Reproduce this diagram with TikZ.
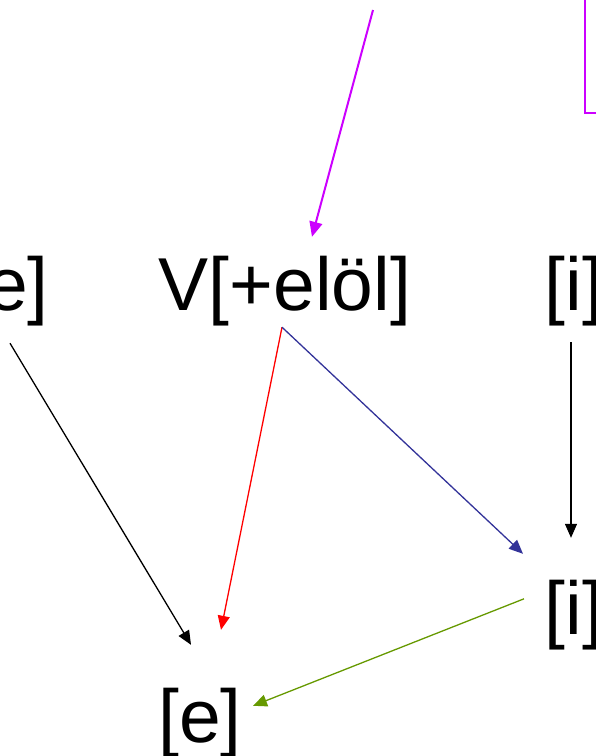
\documentclass[tikz,border=0pt]{standalone}
\usepackage{fontspec}
\setmainfont{Liberation Sans}
\usepackage{tikz}
\usetikzlibrary{arrows.meta}
\definecolor{HarmPurple}{HTML}{CC00FF}
\definecolor{HarmRed}{HTML}{FF0000}
\definecolor{HarmBlue}{HTML}{333399}
\definecolor{HarmGreen}{HTML}{669900}
\tikzset{
  vowel/.style={
    inner sep=0pt,
    anchor=base,
    text height=55pt,
    text depth=15pt,
    font=\fontsize{75}{80}\selectfont
  },
  vflow/.style={-{Triangle[length=14pt,width=12pt]}, line width=1.3pt}
}
\begin{document}
\begin{tikzpicture}[x=1pt,y=1pt]
  \clip (0,0) rectangle (596,-756);
  \useasboundingbox (0,0) rectangle (596,-756);
  \node[vowel] (e1) at (7,-310) {[e]};
  \node[vowel] (front) at (285,-310) {V[+elöl]};
  \node[vowel] (i1) at (574,-310) {[i]};
  \node[vowel] (i2) at (574,-634) {[i]};
  \node[vowel] (e2) at (200,-742) {[e]};
  \coordinate (rule) at (373,-10);
  % rule box, cut by the edge
  \draw[HarmPurple, line width=1.6pt] (585,5) rectangle (650,-113);
  \draw[vflow, draw=HarmPurple, fill=HarmPurple, line width=2pt,
    -{Triangle[length=15pt,width=13pt]}] (rule) -- ([shift={(27pt,18pt)}]front.north);
  \draw[vflow, draw=black] ([shift={(3pt,-18pt)}]e1.south) -- ([shift={(-9pt,42pt)}]e2.north);
  \draw[vflow, draw=HarmRed] ([shift={(-3pt,-2pt)}]front.south) -- ([shift={(21pt,57pt)}]e2.north);
  \draw[vflow, draw=HarmBlue] ([shift={(-3pt,-2pt)}]front.south) -- ([shift={(-51pt,25pt)}]i2.north);
  \draw[vflow, draw=black] ([shift={(-3pt,-17pt)}]i1.south) -- ([shift={(-3pt,41pt)}]i2.north);
  \draw[vflow, draw=HarmGreen] ([shift={(-50pt,-20pt)}]i2.north) -- ([shift={(53pt,-19pt)}]e2.north);
\end{tikzpicture}
\end{document}
